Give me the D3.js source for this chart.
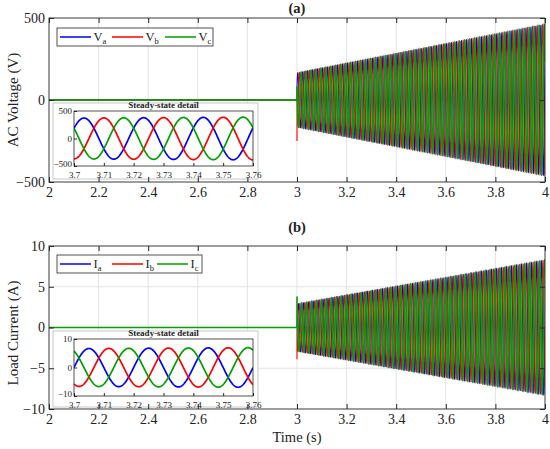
<!DOCTYPE html>
<html><head><meta charset="utf-8">
<script src="https://cdn.jsdelivr.net/npm/d3@7"></script>
<style>body{margin:0;background:#fff} svg{display:block} text{font-family:'Liberation Serif','Times New Roman',Times,serif;fill:#222}</style>
</head><body><svg id="c" width="550" height="449"></svg>
<script>
// ---------- data ----------
const timeTicks = [2, 2.2, 2.4, 2.6, 2.8, 3, 3.2, 3.4, 3.6, 3.8, 4];
const voltTicks = [-500, 0, 500];
const currTicks = [-10, -5, 0, 5, 10];
const insetTimeTicks = [3.7, 3.71, 3.72, 3.73, 3.74, 3.75, 3.76];
const insetVoltTicks = [-500, 0, 500];
const insetCurrTicks = [-10, 0, 10];
const phases = ["a", "b", "c"];
const phaseColors = ["#0000ff", "#ff0000", "#00a000"];
const phaseShiftDeg = [0, -120, 120];
const lineFreqHz = 50;
const onsetTime = 3;                 // source switched on at t = 3 s
const envelopeTime = [3, 4];         // s
const voltEnvelope = [165, 460];     // V peak
const currEnvelope = [2.9, 8.25];    // A peak
const voltAngleDeg = 30;             // phase a angle at onset
const currAngleDeg = 0;
const voltOnsetSpike = [null, -250, null];
const currOnsetSpike = [null, -3.9, 3.8];

// ---------- layout ----------
const SERIF = "'Liberation Serif','Times New Roman',Times,serif";
const panels = [
  { box: {x0: 49, x1: 545, y0: 18, y1: 182}, yDomain: [-500, 500], yTicks: voltTicks,
    env: voltEnvelope, angle: voltAngleDeg, spikes: voltOnsetSpike, letter: "(a)", letterY: 13,
    ylabel: "AC Voltage (V)", ylabelX: 18, ylabelY: 100, sym: "V",
    legend: {x: 57, y: 28, w: 156, h: 18, lines: [60, 112, 165], len: 31},
    inset: {x0: 74, x1: 253, y0: 111, y1: 166, yDomain: [-500, 500], yTicks: insetVoltTicks,
            bg: [53, 103, 205, 76]} },
  { box: {x0: 49, x1: 545, y0: 246, y1: 409}, yDomain: [-10, 10], yTicks: currTicks,
    env: currEnvelope, angle: currAngleDeg, spikes: currOnsetSpike, letter: "(b)", letterY: 232,
    ylabel: "Load Current (A)", ylabelX: 18, ylabelY: 333, sym: "I",
    legend: {x: 57, y: 255, w: 145, h: 18, lines: [60, 112, 157], len: 31},
    inset: {x0: 74, x1: 253, y0: 339, y1: 396, yDomain: [-10, 10], yTicks: insetCurrTicks,
            bg: [53, 331, 205, 76]} }
];

const svg = d3.select("#c");
const fmt = v => (v < 0 ? "\u2212" + Math.abs(v) : String(v));
const toRad = d => d * Math.PI / 180;

function waveform(p, k, t0, t1, step, withPre) {
  const env = d3.scaleLinear().domain(envelopeTime).range(p.env);
  const pts = [];
  if (withPre) { pts.push([t0, 0]); pts.push([onsetTime, 0]); if (p.spikes[k] !== null) pts.push([onsetTime, p.spikes[k]]); }
  const start = withPre ? onsetTime : t0;
  const n = Math.round((t1 - start) / step);
  for (let i = 0; i <= n; i++) {
    const t = start + i * step;
    pts.push([t, env(t) * Math.sin(2 * Math.PI * lineFreqHz * (t - onsetTime) + toRad(p.angle + phaseShiftDeg[k]))]);
  }
  return pts;
}

panels.forEach((p, pi) => {
  const b = p.box;
  const x = d3.scaleLinear().domain([2, 4]).range([b.x0, b.x1]);
  const y = d3.scaleLinear().domain(p.yDomain).range([b.y1, b.y0]);
  const g = svg.append("g");

  // grid
  g.append("g").selectAll("line").data(timeTicks.slice(1, -1)).join("line")
    .attr("x1", d => x(d)).attr("x2", d => x(d)).attr("y1", b.y0).attr("y2", b.y1)
    .attr("stroke", "#e3e3e3").attr("stroke-width", 1);
  g.append("g").selectAll("line").data(p.yTicks.slice(1, -1)).join("line")
    .attr("x1", b.x0).attr("x2", b.x1).attr("y1", d => y(d)).attr("y2", d => y(d))
    .attr("stroke", "#e3e3e3").attr("stroke-width", 1);

  // data lines
  const clipId = "clip" + pi;
  svg.append("clipPath").attr("id", clipId).append("rect")
    .attr("x", b.x0).attr("y", b.y0).attr("width", b.x1 - b.x0).attr("height", b.y1 - b.y0);
  const line = d3.line().x(d => x(d[0])).y(d => y(d[1]));
  const dl = g.append("g").attr("clip-path", `url(#${clipId})`);
  phases.forEach((ph, k) => {
    dl.append("path").attr("d", line(waveform(p, k, 2, 4, 0.0002, true)))
      .attr("fill", "none").attr("stroke", phaseColors[k]).attr("stroke-width", k === 2 ? 1.6 : 1.1);
  });

  // inset background box
  const ib = p.inset;
  g.append("rect").attr("x", ib.bg[0]).attr("y", ib.bg[1]).attr("width", ib.bg[2]).attr("height", ib.bg[3])
    .attr("fill", "#fff").attr("stroke", "#b8b8b8").attr("stroke-width", 0.8);

  // axes frame & ticks (inward)
  g.append("rect").attr("x", b.x0).attr("y", b.y0).attr("width", b.x1 - b.x0).attr("height", b.y1 - b.y0)
    .attr("fill", "none").attr("stroke", "#262626").attr("stroke-width", 0.9);
  const ax = g.append("g").attr("transform", `translate(0,${b.y1})`)
    .call(d3.axisBottom(x).tickValues(timeTicks).tickFormat(d => String(+d.toFixed(1))).tickSizeInner(-5).tickSizeOuter(0).tickPadding(5));
  const axT = g.append("g").attr("transform", `translate(0,${b.y0})`)
    .call(d3.axisTop(x).tickValues(timeTicks).tickFormat("").tickSizeInner(-5).tickSizeOuter(0));
  const ay = g.append("g").attr("transform", `translate(${b.x0},0)`)
    .call(d3.axisLeft(y).tickValues(p.yTicks).tickFormat(fmt).tickSizeInner(-5).tickSizeOuter(0).tickPadding(4));
  const ayR = g.append("g").attr("transform", `translate(${b.x1},0)`)
    .call(d3.axisRight(y).tickValues(p.yTicks).tickFormat("").tickSizeInner(-5).tickSizeOuter(0));
  [ax, axT, ay, ayR].forEach(a => {
    a.select(".domain").remove();
    a.selectAll("line").attr("stroke", "#262626");
    a.selectAll("text").attr("font-family", SERIF).attr("font-size", 14).attr("fill", "#222");
  });
  ax.selectAll("text").attr("dy", "0.72em");

  // panel letter & labels
  g.append("text").attr("x", x(3)).attr("y", p.letterY).attr("text-anchor", "middle")
    .attr("font-family", SERIF).attr("font-weight", "bold").attr("font-size", 14.5).text(p.letter);
  g.append("text").attr("transform", `translate(${p.ylabelX},${p.ylabelY}) rotate(-90)`)
    .attr("font-family", SERIF).attr("text-anchor", "middle").attr("font-size", 15).text(p.ylabel);

  // legend
  const L = p.legend;
  g.append("rect").attr("x", L.x).attr("y", L.y).attr("width", L.w).attr("height", L.h)
    .attr("fill", "#fff").attr("stroke", "#262626").attr("stroke-width", 0.8);
  phases.forEach((ph, k) => {
    const lx = L.lines[k], ly = L.y + L.h / 2;
    g.append("line").attr("x1", lx).attr("x2", lx + L.len).attr("y1", ly).attr("y2", ly)
      .attr("stroke", phaseColors[k]).attr("stroke-width", 1.5);
    const t = g.append("text").attr("x", lx + L.len + 2.5).attr("y", ly + 4.3)
      .attr("font-family", SERIF).attr("font-size", 12.5);
    t.append("tspan").text(p.sym);
    t.append("tspan").attr("font-size", 8.5).attr("dy", 3).text(ph);
  });

  // inset
  const xi = d3.scaleLinear().domain([insetTimeTicks[0], insetTimeTicks[insetTimeTicks.length - 1]]).range([ib.x0, ib.x1]);
  const yi = d3.scaleLinear().domain(ib.yDomain).range([ib.y1, ib.y0]);
  const gi = svg.append("g");
  gi.append("rect").attr("x", ib.x0).attr("y", ib.y0).attr("width", ib.x1 - ib.x0).attr("height", ib.y1 - ib.y0)
    .attr("fill", "#fff");
  const cid = "iclip" + pi;
  svg.append("clipPath").attr("id", cid).append("rect")
    .attr("x", ib.x0).attr("y", ib.y0 - 2).attr("width", ib.x1 - ib.x0).attr("height", ib.y1 - ib.y0 + 4);
  const li = d3.line().x(d => xi(d[0])).y(d => yi(d[1]));
  const il = gi.append("g").attr("clip-path", `url(#${cid})`);
  phases.forEach((ph, k) => {
    il.append("path").attr("d", li(waveform(p, k, 3.7, 3.76, 0.0001, false)))
      .attr("fill", "none").attr("stroke", phaseColors[k]).attr("stroke-width", 1.7);
  });
  gi.append("rect").attr("x", ib.x0).attr("y", ib.y0).attr("width", ib.x1 - ib.x0).attr("height", ib.y1 - ib.y0)
    .attr("fill", "none").attr("stroke", "#262626").attr("stroke-width", 0.8);
  const iax = gi.append("g").attr("transform", `translate(0,${ib.y1})`)
    .call(d3.axisBottom(xi).tickValues(insetTimeTicks).tickFormat(d => String(+d.toFixed(2))).tickSizeInner(-3).tickSizeOuter(0).tickPadding(5.5));
  const iay = gi.append("g").attr("transform", `translate(${ib.x0},0)`)
    .call(d3.axisLeft(yi).tickValues(ib.yTicks).tickFormat(fmt).tickSizeInner(-3).tickSizeOuter(0).tickPadding(2));
  [iax, iay].forEach(a => {
    a.select(".domain").remove();
    a.selectAll("line").attr("stroke", "#262626");
    a.selectAll("text").attr("font-family", SERIF).attr("font-size", 9).attr("fill", "#222");
  });
  iax.selectAll("text").attr("dy", "0.72em");
  iay.selectAll("text").filter(d => d === ib.yDomain[0]).attr("dy", "0.1em");
  gi.append("text").attr("x", (ib.x0 + ib.x1) / 2).attr("y", ib.y0 - 3).attr("text-anchor", "middle")
    .attr("font-family", SERIF).attr("font-weight", "bold").attr("font-size", 9).text("Steady-state detail");
});

svg.append("text").attr("x", 297).attr("y", 442).attr("text-anchor", "middle")
  .attr("font-family", SERIF).attr("font-size", 14.5).text("Time (s)");
</script>
</body></html>
